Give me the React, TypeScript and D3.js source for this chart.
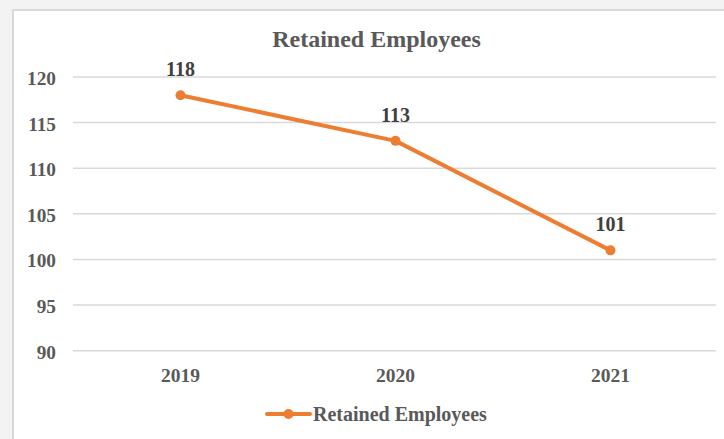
import React from "react";
import * as d3 from "d3";

const categories = ["2019", "2020", "2021"];
const values = [118, 113, 101];
const yTicks = [90, 95, 100, 105, 110, 115, 120];
const title = "Retained Employees";
const seriesName = "Retained Employees";

const W = 724;
const H = 439;
const ORANGE = "#ED7D31";
const TEXT = "#595959";
const FONT = "'Liberation Serif', 'Times New Roman', serif";

export default function App() {
  const x = d3.scaleBand<string>().domain(categories).range([73, 718]);
  const y = d3.scaleLinear().domain([90, 120]).range([350.7, 77]);
  const line = d3
    .line<number>()
    .x((_, i) => (x(categories[i]) as number) + x.bandwidth() / 2)
    .y((d) => y(d));

  return (
    <svg
      width={W}
      height={H}
      style={{ position: "absolute", left: 0, top: 0, display: "block" }}
    >
      <rect x={0} y={0} width={W} height={H} fill="#f3f3f3" />
      <rect x={13} y={10} width={W + 20} height={H + 20} fill="#ffffff" stroke="#d9d9d9" strokeWidth={2} />
      <text
        x={376.5}
        y={47}
        textAnchor="middle"
        fontFamily={FONT}
        fontWeight="bold"
        fontSize={24}
        fill={TEXT}
      >
        {title}
      </text>
      {yTicks.map((t) => (
        <g key={t}>
          <line x1={73} x2={716} y1={y(t)} y2={y(t)} stroke="#d9d9d9" strokeWidth={1.5} />
          <text
            x={56}
            y={y(t) + 8}
            textAnchor="end"
            fontFamily={FONT}
            fontWeight="bold"
            fontSize={19.3}
            fill={TEXT}
          >
            {t}
          </text>
        </g>
      ))}
      {categories.map((c) => (
        <text
          key={c}
          x={(x(c) as number) + x.bandwidth() / 2}
          y={382}
          textAnchor="middle"
          fontFamily={FONT}
          fontWeight="bold"
          fontSize={19.5}
          fill={TEXT}
        >
          {c}
        </text>
      ))}
      <path d={line(values) || ""} fill="none" stroke={ORANGE} strokeWidth={4} strokeLinejoin="round" strokeLinecap="round" />
      {values.map((v, i) => {
        const cx = (x(categories[i]) as number) + x.bandwidth() / 2;
        return (
          <g key={i}>
            <circle cx={cx} cy={y(v)} r={5} fill={ORANGE} />
            <text
              x={cx}
              y={y(v) - 19}
              textAnchor="middle"
              fontFamily={FONT}
              fontWeight="bold"
              fontSize={20}
              fill="#404040"
            >
              {v}
            </text>
          </g>
        );
      })}
      <g>
        <line x1={267} x2={310} y1={414} y2={414} stroke={ORANGE} strokeWidth={4} strokeLinecap="round" />
        <circle cx={288.5} cy={414} r={5} fill={ORANGE} />
        <text
          x={313}
          y={421}
          fontFamily={FONT}
          fontWeight="bold"
          fontSize={20}
          fill={TEXT}
        >
          {seriesName}
        </text>
      </g>
    </svg>
  );
}
